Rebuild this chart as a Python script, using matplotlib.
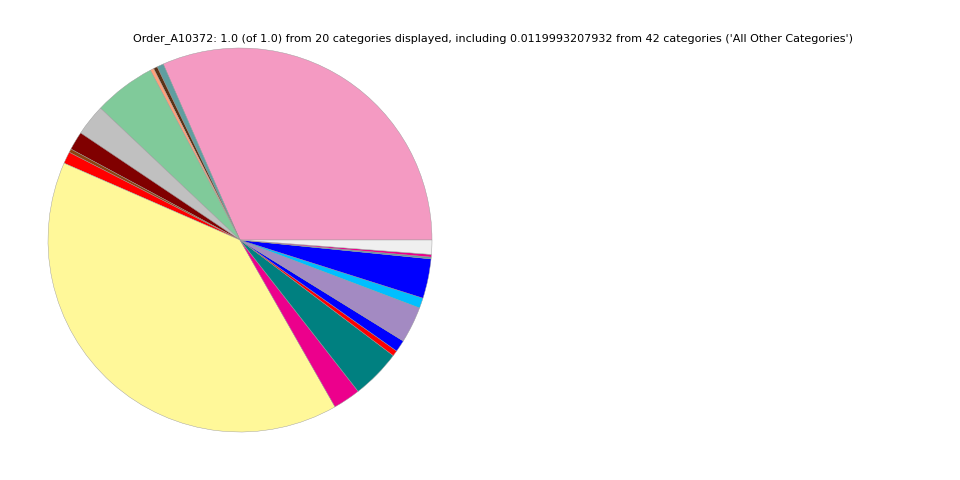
import matplotlib
matplotlib.use("Agg")
from matplotlib import pyplot as plt

title = ("Order_A10372: 1.0 (of 1.0) from 20 categories displayed, including "
         "0.0119993207932 from 42 categories ('All Other Categories')")

# slice shares, counter-clockwise from 3 o'clock
shares = [0.3156, 0.0056, 0.0033, 0.0030, 0.0522, 0.0264, 0.0156, 0.0030,
          0.0100, 0.3981, 0.0231, 0.0417, 0.0047, 0.0100, 0.0306, 0.0086,
          0.0333, 0.0015, 0.0022, 0.0119993207932]
colors = ['#F49AC2', '#5F9EA0', '#5C3317', '#FFA07A', '#80CA9A', '#C0C0C0',
          '#800000', '#8B4513', '#FF0000', '#FFF899', '#EC008C', '#008080',
          '#FF0000', '#0000FF', '#A38AC2', '#00BFFF', '#0000FF', '#5F9EA0',
          '#EC008C', '#EFEFEF']

fig = plt.figure(figsize=(9.6, 4.8), dpi=100)
ax = fig.add_axes([0.05, 0.1, 0.4, 0.8])
ax.pie(shares, colors=colors, startangle=0, counterclock=True,
       wedgeprops={'linewidth': 0.3, 'edgecolor': '#999999'})
ax.set_xlim(-1, 1)
ax.set_ylim(-1, 1)
ax.set_aspect('equal')
fig.text(492.5 / 960, 1 - 39 / 480, title, ha='center', va='center',
         fontsize=8)

plt.savefig('out.png', dpi=100)
